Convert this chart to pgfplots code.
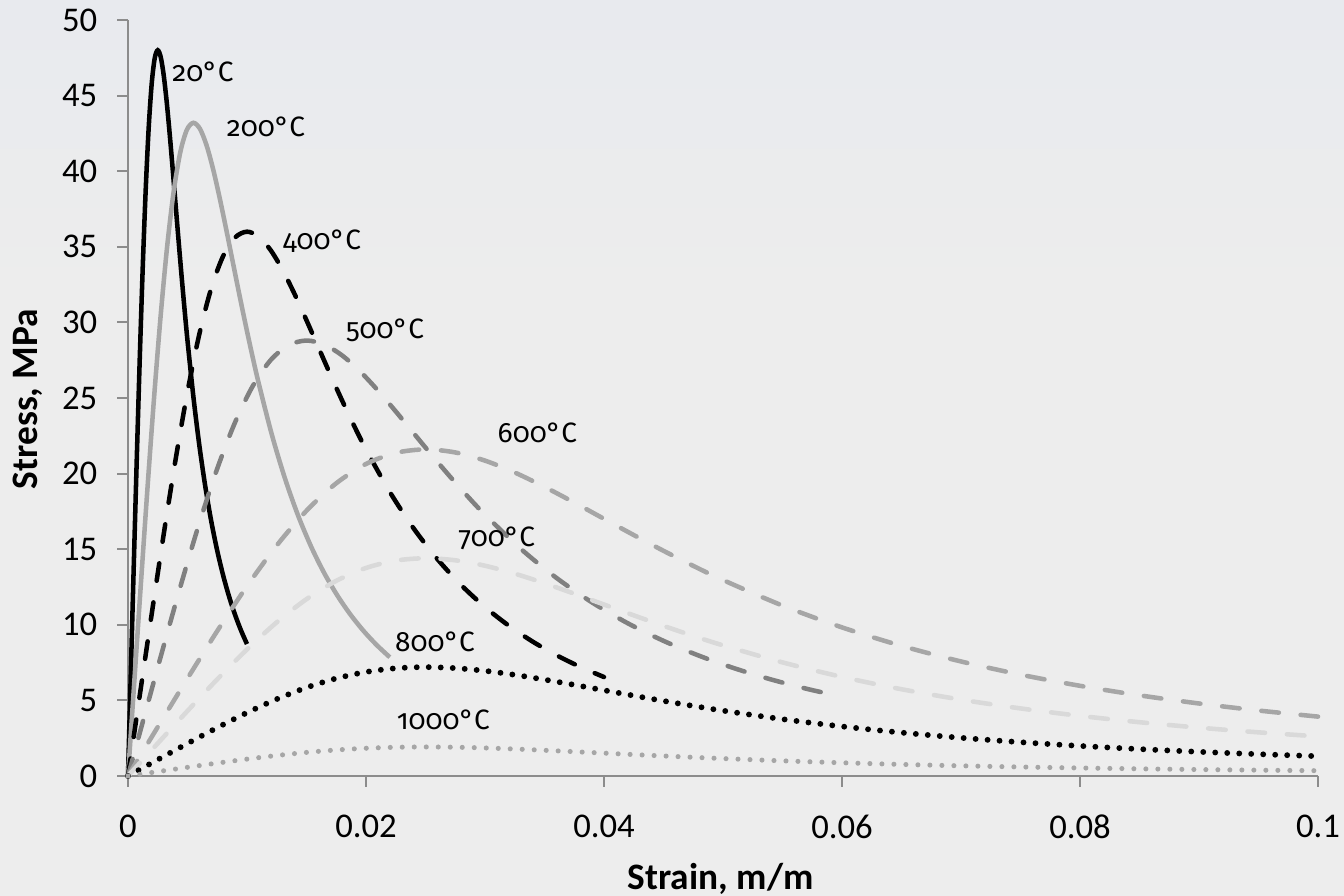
\documentclass[border=0pt]{standalone}
\usepackage{fontspec}
\setmainfont{Carlito}
\newfontfamily\labelfont[Numbers=OldStyle]{Fira Sans}
\usepackage{pgfplots}
\pgfplotsset{compat=1.18}
\definecolor{bg}{HTML}{EDEDED}
\definecolor{bgtop}{HTML}{E8EAEE}
\definecolor{axgray}{HTML}{8C8C8C}
\definecolor{g1}{HTML}{A6A6A6}
\definecolor{g2}{HTML}{808080}
\definecolor{g3}{HTML}{D9D9D9}
\begin{document}
\begin{tikzpicture}
\fill[bg] (-48pt,-45pt) rectangle (456pt,291pt);
\shade[top color=bgtop, bottom color=bg] (-48pt,180pt) rectangle (456pt,291pt);
\begin{axis}[
  at={(0,0)}, anchor=south west,
  scale only axis, width=446.25pt, height=283.5pt,
  xmin=0, xmax=0.1, ymin=0, ymax=50,
  axis lines=left, axis line style={axgray, line width=0.75pt, -},
  xtick={0,0.02,0.04,0.06,0.08,0.1},
  xticklabels={0,0.02,0.04,0.06,0.08,0.1},
  ytick={0,5,...,50},
  tick style={axgray, line width=0.75pt},
  tickwidth=4pt,
  xtick pos=bottom, ytick pos=left,
  tick align=outside,
  /pgf/number format/assume math mode=true,
  ticklabel style={font=\fontsize{13}{15}\selectfont, text=black},
  xticklabel style={yshift=-7pt},
  yticklabel style={xshift=-4pt},
  xlabel={\textbf{Strain, m/m}},
  ylabel={\textbf{Stress, MPa}},
  label style={font=\fontsize{14}{16}\selectfont},
  xlabel style={at={(axis description cs:0.498,-0.1496)}, anchor=base},
  ylabel style={at={(axis description cs:-0.084,0.4987)}, anchor=center},
  clip=false,
]
% 20 C
\addplot[black, line width=1.7pt, smooth] coordinates {
(0,0) (0.00025,7.197) (0.0005,14.342) (0.00075,21.312) (0.001,27.907) (0.00125,33.882) (0.0015,38.989) (0.00175,43.022) (0.002,45.860) (0.00225,47.490) (0.0025,48) (0.00275,47.553) (0.003,46.352) (0.00325,44.603) (0.0035,42.496) (0.00375,40.186) (0.004,37.795) (0.00425,35.412) (0.0045,33.095) (0.00475,30.884) (0.005,28.8) (0.0055,25.047) (0.006,21.840) (0.0065,19.126) (0.007,16.834) (0.0075,14.896) (0.008,13.254) (0.0085,11.854) (0.009,10.655) (0.0095,9.622) (0.01,8.727)};
% 200 C
\addplot[g1, line width=1.7pt, smooth] coordinates {
(0,0) (0.00055,6.477) (0.0011,12.908) (0.00165,19.181) (0.0022,25.116) (0.00275,30.494) (0.0033,35.090) (0.00385,38.720) (0.0044,41.274) (0.00495,42.741) (0.0055,43.2) (0.00605,42.798) (0.0066,41.717) (0.00715,40.143) (0.0077,38.246) (0.00825,36.167) (0.0088,34.016) (0.00935,31.871) (0.0099,29.786) (0.01045,27.796) (0.011,25.92) (0.0121,22.542) (0.0132,19.656) (0.0143,17.213) (0.0154,15.151) (0.0165,13.406) (0.0176,11.929) (0.0187,10.669) (0.0198,9.590) (0.0209,8.660) (0.022,7.854)};
% 400 C
\addplot[black, line width=1.7pt, smooth, line cap=round, dash pattern=on 6.6pt off 8.2pt] coordinates {
(0,0) (0.001,5.398) (0.002,10.757) (0.003,15.984) (0.004,20.930) (0.005,25.412) (0.006,29.242) (0.007,32.267) (0.008,34.395) (0.009,35.618) (0.01,36) (0.011,35.665) (0.012,34.764) (0.013,33.452) (0.014,31.872) (0.015,30.140) (0.016,28.346) (0.017,26.559) (0.018,24.821) (0.019,23.163) (0.02,21.6) (0.022,18.785) (0.024,16.38) (0.026,14.345) (0.028,12.626) (0.03,11.172) (0.032,9.941) (0.034,8.891) (0.036,7.991) (0.038,7.217) (0.04,6.545)};
% 500 C
\addplot[g2, line width=1.7pt, smooth, line cap=round, dash pattern=on 6.6pt off 8.2pt] coordinates {
(0,0) (0.0015,4.318) (0.003,8.605) (0.0045,12.787) (0.006,16.744) (0.0075,20.329) (0.009,23.393) (0.0105,25.813) (0.012,27.516) (0.0135,28.494) (0.015,28.8) (0.0165,28.532) (0.018,27.811) (0.0195,26.762) (0.021,25.498) (0.0225,24.112) (0.024,22.677) (0.0255,21.247) (0.027,19.857) (0.0285,18.530) (0.03,17.28) (0.033,15.028) (0.036,13.104) (0.039,11.476) (0.042,10.100) (0.045,8.938) (0.048,7.952) (0.051,7.112) (0.054,6.393) (0.057,5.773) (0.059,5.416)};
% 600 C
\addplot[g1, line width=1.7pt, smooth, line cap=round, dash pattern=on 6.6pt off 8.2pt] coordinates {
(0,0) (0.0025,3.239) (0.005,6.454) (0.0075,9.590) (0.01,12.558) (0.0125,15.247) (0.015,17.545) (0.0175,19.360) (0.02,20.637) (0.0225,21.371) (0.025,21.6) (0.0275,21.399) (0.03,20.858) (0.0325,20.071) (0.035,19.123) (0.0375,18.084) (0.04,17.008) (0.0425,15.935) (0.045,14.893) (0.0475,13.898) (0.05,12.96) (0.055,11.271) (0.06,9.828) (0.065,8.607) (0.07,7.575) (0.075,6.703) (0.08,5.964) (0.085,5.334) (0.09,4.795) (0.095,4.330) (0.1,3.927)};
% 700 C
\addplot[g3, line width=1.7pt, smooth, line cap=round, dash pattern=on 6.6pt off 8.2pt] coordinates {
(0,0) (0.0025,2.159) (0.005,4.303) (0.0075,6.394) (0.01,8.372) (0.0125,10.165) (0.015,11.697) (0.0175,12.907) (0.02,13.758) (0.0225,14.247) (0.025,14.4) (0.0275,14.266) (0.03,13.906) (0.0325,13.381) (0.035,12.749) (0.0375,12.056) (0.04,11.339) (0.0425,10.624) (0.045,9.929) (0.0475,9.265) (0.05,8.64) (0.055,7.514) (0.06,6.552) (0.065,5.738) (0.07,5.050) (0.075,4.469) (0.08,3.976) (0.085,3.556) (0.09,3.197) (0.095,2.887) (0.1,2.618)};
% 800 C
\addplot[black, line width=2.2pt, smooth, line cap=round, dash pattern=on 0pt off 4.5pt] coordinates {
(0,0) (0.0025,1.080) (0.005,2.151) (0.0075,3.197) (0.01,4.186) (0.0125,5.082) (0.015,5.848) (0.0175,6.453) (0.02,6.879) (0.0225,7.124) (0.025,7.2) (0.0275,7.133) (0.03,6.953) (0.0325,6.690) (0.035,6.374) (0.0375,6.028) (0.04,5.669) (0.0425,5.312) (0.045,4.964) (0.0475,4.633) (0.05,4.32) (0.055,3.757) (0.06,3.276) (0.065,2.869) (0.07,2.525) (0.075,2.234) (0.08,1.988) (0.085,1.778) (0.09,1.598) (0.095,1.443) (0.1,1.309)};
% 1000 C
\addplot[g1, line width=1.9pt, smooth, line cap=round, dash pattern=on 0pt off 4.5pt] coordinates {
(0,0) (0.0025,0.288) (0.005,0.574) (0.0075,0.852) (0.01,1.116) (0.0125,1.355) (0.015,1.560) (0.0175,1.721) (0.02,1.834) (0.0225,1.900) (0.025,1.92) (0.0275,1.902) (0.03,1.854) (0.0325,1.784) (0.035,1.700) (0.0375,1.607) (0.04,1.512) (0.0425,1.416) (0.045,1.324) (0.0475,1.235) (0.05,1.152) (0.055,1.002) (0.06,0.874) (0.065,0.765) (0.07,0.673) (0.075,0.596) (0.08,0.530) (0.085,0.474) (0.09,0.426) (0.095,0.385) (0.1,0.349)};
\begin{scope}[every node/.style={font=\labelfont\fontsize{10.5}{12.5}\selectfont, inner sep=0pt}]
\node at (axis cs:0.0063,46.6) {20°C};
\node at (axis cs:0.0116,42.9) {200°C};
\node at (axis cs:0.0163,35.4) {400°C};
\node at (axis cs:0.0216,29.5) {500°C};
\node at (axis cs:0.0344,22.7) {600°C};
\node at (axis cs:0.0310,15.7) {700°C};
\node at (axis cs:0.0258,8.9) {800°C};
\node at (axis cs:0.0265,3.7) {1000°C};
\end{scope}
\end{axis}
\pgfresetboundingbox
\path[use as bounding box] (-48pt,-45pt) rectangle (456pt,291pt);
\end{tikzpicture}
\end{document}
